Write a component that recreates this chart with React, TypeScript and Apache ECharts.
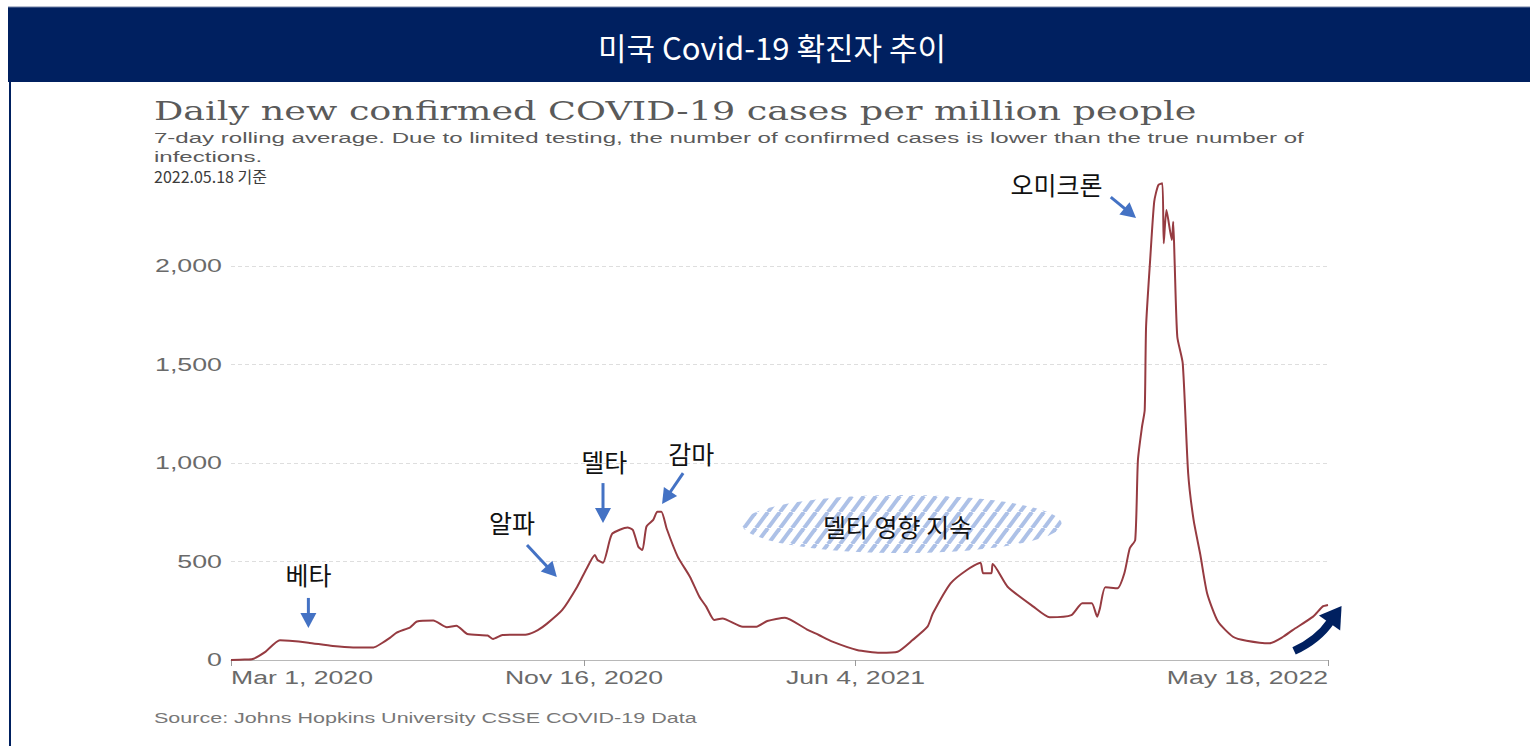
import React, { useEffect, useRef } from 'react';
import * as echarts from 'echarts';

// Days since Mar 1, 2020 and US daily new confirmed cases per million (7-day avg)
const dayOffsets = [0, 10, 16, 25, 36, 43, 57, 75, 90, 105, 111, 117, 122, 132, 137, 149, 159, 166, 174, 189, 193, 200, 218, 226, 233, 244, 255, 262, 268, 270, 274, 279, 281, 292, 296, 300, 303, 306, 311, 314, 317, 321, 329, 338, 345, 350, 356, 362, 377, 387, 395, 408, 424, 433, 443, 461, 478, 491, 502, 513, 517, 530, 542, 552, 554, 560, 561, 572, 591, 603, 619, 627, 634, 638, 640, 644, 653, 658, 662, 666, 668, 671, 673, 674, 677, 680, 683, 686, 687, 689, 693, 694, 695, 697, 701, 705, 709, 714, 719, 727, 738, 748, 765, 775, 782, 797, 804, 808];
const casesPerMillion = [0, 2, 5, 40, 100, 98, 88, 71, 64, 64, 85, 112, 139, 166, 195, 200, 166, 174, 132, 124, 107, 127, 130, 152, 186, 254, 372, 465, 533, 508, 494, 609, 643, 673, 660, 575, 558, 677, 711, 753, 753, 665, 525, 423, 321, 271, 203, 211, 169, 169, 198, 215, 156, 127, 93, 51, 37, 42, 101, 169, 237, 389, 457, 494, 440, 440, 487, 372, 271, 217, 228, 288, 288, 220, 262, 369, 364, 440, 567, 609, 1015, 1184, 1269, 1692, 2030, 2327, 2411, 2420, 2115, 2284, 2132, 2225, 2030, 1641, 1506, 948, 711, 533, 338, 195, 118, 98, 85, 118, 152, 220, 271, 279];

const xTickDays = [0, 260, 460, 808];
const xTickLabels = ['Mar 1, 2020', 'Nov 16, 2020', 'Jun 4, 2021', 'May 18, 2022'];
const yTicks = [0, 500, 1000, 1500, 2000];
const yTickLabels = ['0', '500', '1,000', '1,500', '2,000'];

const headerTitle = '미국 Covid-19 확진자 추이';
const chartTitle = 'Daily new confirmed COVID-19 cases per million people';
const subtitleLines = [
  '7-day rolling average. Due to limited testing, the number of confirmed cases is lower than the true number of',
  'infections.',
];
const asOfNote = '2022.05.18 기준';
const sourceNote = 'Source: Johns Hopkins University CSSE COVID-19 Data';

// wave annotations in data coordinates [day, value]
const waveLabels = ['베타', '알파', '델타', '감마', '오미크론'];
const waveLabelAt = [[57, 436], [207, 700], [275, 1010], [339, 1051], [608, 2416]];
const waveArrowFrom = [[57, 315], [218, 584], [274, 898], [333, 949], [648, 2350]];
const waveArrowTo = [[57, 162], [240, 421], [274, 695], [317.5, 792], [666.6, 2244]];
const deltaNote = '델타 영향 지속';
const deltaNoteAt = [491, 680];
const deltaCloudAt = [494, 690];
const trendFrom = [783, 46];
const trendTo = [818, 274];

const NAVY = '#002060';
const BLUE = '#4472C4';
const KR = '"Noto Sans CJK KR", sans-serif';
const SANS = '"Liberation Sans", Arial, sans-serif';
const SERIF = '"DejaVu Serif", serif';

function measure(text: string, font: string) {
  const ctx = document.createElement('canvas').getContext('2d')!;
  ctx.font = font;
  return ctx.measureText(text).width;
}

function txt(text: string, x: number, y: number, size: number, family: string, fill: string, align = 'left', scaleX = 1, z = 10) {
  return {
    type: 'text',
    x,
    y,
    scaleX,
    z,
    silent: true,
    style: {
      text,
      fontSize: size,
      fontFamily: family,
      fill,
      align,
      verticalAlign: 'middle',
      textAlign: align,
      textVerticalAlign: 'middle',
    },
  };
}

function arrow(p1: number[], p2: number[], color: string, z = 10) {
  const dx = p2[0] - p1[0];
  const dy = p2[1] - p1[1];
  const len = Math.hypot(dx, dy) || 1;
  const ux = dx / len;
  const uy = dy / len;
  const L = 15;
  const W = 8;
  const bx = p2[0] - ux * L;
  const by = p2[1] - uy * L;
  return [
    {
      type: 'line',
      z,
      silent: true,
      shape: { x1: p1[0], y1: p1[1], x2: bx + ux * 2, y2: by + uy * 2 },
      style: { stroke: color, lineWidth: 3 },
    },
    {
      type: 'polygon',
      z,
      silent: true,
      shape: { points: [[p2[0], p2[1]], [bx - uy * W, by + ux * W], [bx + uy * W, by - ux * W]] },
      style: { fill: color },
    },
  ];
}

export default function App() {
  const ref = useRef<HTMLDivElement>(null);

  useEffect(() => {
    const el = ref.current!;
    const chart = echarts.init(el, null, { renderer: 'svg', width: 1530, height: 746 });
    chart.setOption({
      animation: false,
      backgroundColor: '#ffffff',
      grid: { left: 231, right: 202, top: 167.5, bottom: 86, containLabel: false },
      xAxis: {
        type: 'value',
        min: 0,
        max: 808,
        axisLine: { show: true, lineStyle: { color: '#b8b8b8', width: 1 } },
        axisTick: { show: true, customValues: xTickDays, length: 6, lineStyle: { color: '#9a9a9a' } },
        axisLabel: { show: false, customValues: xTickDays },
        splitLine: { show: false },
      },
      yAxis: {
        type: 'value',
        min: 0,
        max: 2500,
        interval: 500,
        axisLine: { show: false },
        axisTick: { show: false },
        axisLabel: { show: false },
        splitLine: {
          show: true,
          showMinLine: false,
          showMaxLine: false,
          lineStyle: { color: '#dedede', type: [4, 3], width: 1 },
        },
      },
      series: [
        {
          type: 'line',
          data: dayOffsets.map((d, i) => [d, casesPerMillion[i]]),
          showSymbol: false,
          symbol: 'none',
          silent: true,
          smooth: 0.2,
          z: 3,
          lineStyle: { color: '#963b41', width: 2 },
        },
      ],
    });

    const px = (p: number[]) => chart.convertToPixel({ gridIndex: 0 }, p) as number[];

    const sxTitle = 1043 / measure(chartTitle, `26px ${SERIF}`);
    const sxSub = 1151 / measure(subtitleLines[0], `14px ${SANS}`);
    const sxSrc = 543 / measure(sourceNote, `14px ${SANS}`);
    const sxX = 142 / measure(xTickLabels[0], `19px ${SANS}`);
    const sxY = 67 / measure(yTickLabels[4], `18px ${SANS}`);

    const els: any[] = [];
    els.push({ type: 'rect', z: 1, silent: true, shape: { x: 8, y: 7, width: 1522, height: 75 }, style: { fill: NAVY } });
    els.push({ type: 'line', z: 1, silent: true, shape: { x1: 8, y1: 7, x2: 1530, y2: 7 }, style: { stroke: '#6f7fa3', lineWidth: 1 } });
    els.push({ type: 'line', z: 1, silent: true, shape: { x1: 10, y1: 82, x2: 10, y2: 746 }, style: { stroke: NAVY, lineWidth: 2 } });
    els.push(txt(headerTitle, 772, 46, 31, KR, '#ffffff', 'center'));

    els.push(txt(chartTitle, 154, 111, 26, SERIF, '#5a5a5a', 'left', sxTitle));
    els.push(txt(subtitleLines[0], 154, 138, 14, SANS, '#5a5a5a', 'left', sxSub));
    els.push(txt(subtitleLines[1], 154, 157, 14, SANS, '#5a5a5a', 'left', sxSub));
    els.push(txt(asOfNote, 154, 176, 16, KR, '#3c3c3c', 'left'));
    els.push(txt(sourceNote, 154, 718, 14, SANS, '#777777', 'left', sxSrc));

    yTicks.forEach((v, i) => {
      const p = px([0, v]);
      els.push(txt(yTickLabels[i], p[0] - 9, p[1], 18, SANS, '#6a6a6a', 'right', sxY));
    });
    xTickDays.forEach((d, i) => {
      const p = px([d, 0]);
      const align = i === 0 ? 'left' : i === xTickDays.length - 1 ? 'right' : 'center';
      els.push(txt(xTickLabels[i], p[0], p[1] + 17, 19, SANS, '#6a6a6a', align, sxX));
    });

    // hatched cloud
    const tile = document.createElement('canvas');
    tile.width = 12;
    tile.height = 16;
    const g = tile.getContext('2d')!;
    g.strokeStyle = '#a9bee6';
    g.lineWidth = 4;
    for (const k of [-1, 0, 1]) {
      g.beginPath();
      g.moveTo(k * 12, 16);
      g.lineTo(k * 12 + 12, 0);
      g.stroke();
    }
    const cc = px(deltaCloudAt);
    els.push({
      type: 'ellipse',
      z: 2,
      silent: true,
      shape: { cx: cc[0], cy: cc[1], rx: 160, ry: 29 },
      style: { fill: { image: tile, repeat: 'repeat', imageWidth: 12, imageHeight: 16 }, opacity: 0.95 },
    });
    const dn = px(deltaNoteAt);
    els.push(txt(deltaNote, dn[0], dn[1], 25, KR, '#111111', 'center'));

    waveLabels.forEach((label, i) => {
      const lp = px(waveLabelAt[i]);
      els.push(txt(label, lp[0], lp[1], 25, KR, '#111111', 'center'));
      els.push(...arrow(px(waveArrowFrom[i]), px(waveArrowTo[i]), BLUE));
    });

    // navy trend arrow
    const t0 = px(trendFrom);
    const t2 = px(trendTo);
    const base = [t2[0] - 12, t2[1] + 17];
    const ctrl = [t0[0] + 24, t0[1] - 11];
    els.push({
      type: 'bezierCurve',
      z: 10,
      silent: true,
      shape: { x1: t0[0], y1: t0[1], x2: base[0] + 1, y2: base[1] - 1.5, cpx1: ctrl[0], cpy1: ctrl[1] },
      style: { stroke: NAVY, lineWidth: 8, fill: 'none' },
    });
    const dx = t2[0] - base[0];
    const dy = t2[1] - base[1];
    const l = Math.hypot(dx, dy);
    const nx = -dy / l;
    const ny = dx / l;
    els.push({
      type: 'polygon',
      z: 10,
      silent: true,
      shape: { points: [[t2[0], t2[1]], [base[0] + nx * 13, base[1] + ny * 13], [base[0] - nx * 13, base[1] - ny * 13]] },
      style: { fill: NAVY },
    });

    chart.setOption({ graphic: { elements: els } });

    return () => chart.dispose();
  }, []);

  return <div ref={ref} style={{ position: 'fixed', left: 0, top: 0, width: 1530, height: 746, background: '#fff' }} />;
}
